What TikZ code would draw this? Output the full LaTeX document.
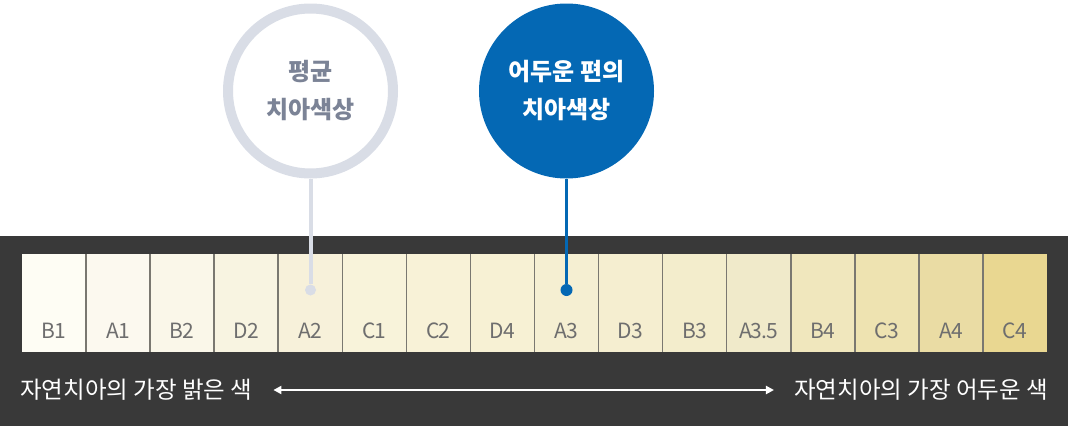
\documentclass[tikz,border=0pt]{standalone}
\usepackage{fontspec}
\setmainfont{Noto Sans CJK KR}
\usepackage{tikz}
\usetikzlibrary{arrows.meta, positioning, calc}
\definecolor{banda}{HTML}{393939}
\definecolor{divisor}{HTML}{7A7870}
\definecolor{anillo}{HTML}{D9DDE6}
\definecolor{grisTexto}{HTML}{7B8396}
\definecolor{azul}{HTML}{0468B4}
\definecolor{etiqueta}{HTML}{6E6E6E}

\begin{document}
\begin{tikzpicture}[x=1pt, y=-1pt, every node/.style={font=\fontsize{23.5}{28}\selectfont}]
  \useasboundingbox (0,0) rectangle (1068,426);
  % \draw[help lines, step=50] (0,0) grid (1068,426);

  \fill[banda] (0,236) rectangle (1068,426); % fondo oscuro

  % muestras de color
  \foreach \nombre/\col [count=\i from 0] in {B1/FEFDF4, A1/FCF9EF, B2/FAF7E9, D2/F8F4E1, A2/F7F1DA, C1/F8F3DA, C2/F8F2D7, D4/F7F1D4, A3/F5EFD2, D3/F5EED0, B3/F3EDCC, A3.5/F0EACA, B4/F0E7BD, C3/EEE3B1, A4/EADCA4, C4/E9D791}{
      \definecolor{muestra}{HTML}{\col}
      \node[fill=muestra, minimum width=64.06pt, minimum height=98pt, inner sep=0, outer sep=0, anchor=north west] (s\i) at (22+\i*64.06, 254) {};
      \node[etiqueta, font=\fontsize{21}{24}\selectfont] (e\i) at ($(s\i.south)+(0,-21)$) {\addfontfeatures{LetterSpace=-4}\nombre};
    }
  \foreach \i in {1,...,15}
    \draw[divisor, line width=1.6pt] (s\i.north west) -- (s\i.south west);

  % circulos
  \node[circle, draw=anillo, line width=10pt, fill=white, minimum size=165pt, align=center, text=grisTexto, font=\fontsize{24}{38}\selectfont\bfseries] (prom) at (310.5,91) {평균\\치아색상};
  \node[circle, fill=azul, minimum size=175pt, align=center, text=white, font=\fontsize{24}{38}\selectfont\bfseries] (osc) at (566.5,91) {어두운 편의\\치아색상};

  \node[circle, fill=anillo, minimum size=11pt, inner sep=0] (pprom) at (310.5,290) {};
  \node[circle, fill=azul, minimum size=12pt, inner sep=0] (posc) at (566.5,290) {};
  \draw[anillo, line width=4pt] (prom.south) -- (pprom);
  \draw[azul, line width=3pt] (osc.south) -- (posc);

  % escala
  \node[white, inner sep=0, anchor=west] (claro) at (20,390) {자연치아의 가장 밝은 색};
  \node[white, inner sep=0, anchor=east] (oscuro) at (1048,390) {자연치아의 가장 어두운 색};
  \draw[white, line width=2pt, {Triangle[length=8pt,width=8pt]}-{Triangle[length=8pt,width=8pt]}, shorten <=21pt, shorten >=20pt] (claro.east) -- (oscuro.west);
\end{tikzpicture}
\end{document}
